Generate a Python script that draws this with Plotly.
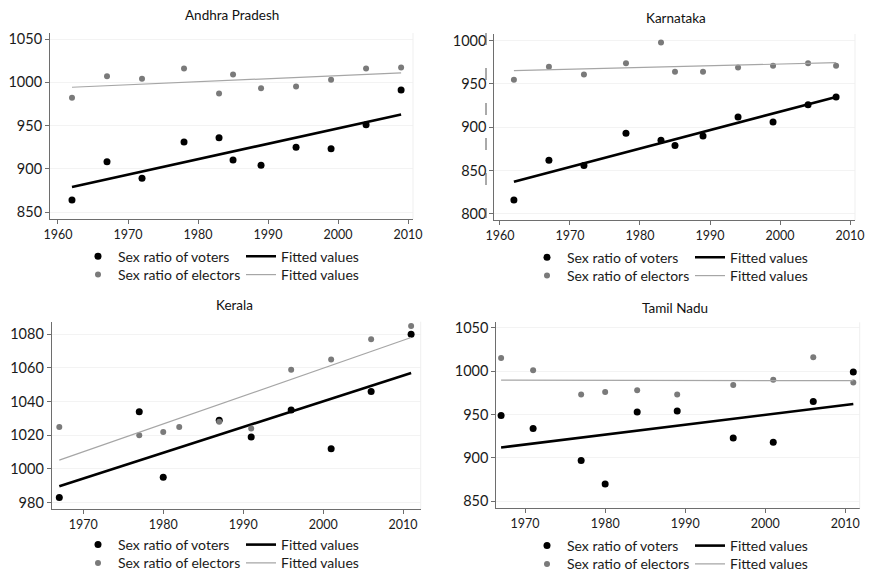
import numpy as np
import plotly.graph_objects as go

# ---------------- data ----------------
ap_years = [1962, 1967, 1972, 1978, 1983, 1985, 1989, 1994, 1999, 2004, 2009]
ap_voters = [864, 908, 889, 931, 936, 910, 904, 925, 923, 951, 991]
ap_electors = [982, 1007, 1004, 1016, 987, 1009, 993, 995, 1003, 1016, 1017]

ka_years = [1962, 1967, 1972, 1978, 1983, 1985, 1989, 1994, 1999, 2004, 2008]
ka_voters = [816, 862, 856, 893, 885, 879, 890, 912, 906, 926, 935]
ka_electors = [955, 970, 961, 974, 998, 964, 964, 969, 971, 974, 971]

ke_voter_years = [1967, 1977, 1980, 1987, 1991, 1996, 2001, 2006, 2011]
ke_voters = [983, 1034, 995, 1029, 1019, 1035, 1012, 1046, 1080]
ke_elector_years = [1967, 1977, 1980, 1982, 1987, 1991, 1996, 2001, 2006, 2011]
ke_electors = [1025, 1020, 1022, 1025, 1028, 1024, 1059, 1065, 1077, 1085]

tn_years = [1967, 1971, 1977, 1980, 1984, 1989, 1996, 2001, 2006, 2011]
tn_voters = [949, 934, 897, 870, 953, 954, 923, 918, 965, 999]
tn_electors = [1015, 1001, 973, 976, 978, 973, 984, 990, 1016, 987]

titles = ["Andhra Pradesh", "Karnataka", "Kerala", "Tamil Nadu"]
x_ticks_top = [1960, 1970, 1980, 1990, 2000, 2010]
x_ticks_bottom = [1970, 1980, 1990, 2000, 2010]
ap_y_ticks = [850, 900, 950, 1000, 1050]
ka_y_ticks = [800, 850, 900, 950, 1000]
ke_y_ticks = [980, 1000, 1020, 1040, 1060, 1080]
tn_y_ticks = [850, 900, 950, 1000, 1050]

legend_labels = ["Sex ratio of voters", "Fitted values", "Sex ratio of electors", "Fitted values"]

# ---------------- layout helpers ----------------
W, H = 874, 574
FONT = "Lato, 'DejaVu Sans Condensed', sans-serif"
AXIS_COL = "#6e6e6e"
TXT = "#1a1a1a"

panels = [
    dict(vy=ap_years, v=ap_voters, ey=ap_years, e=ap_electors,
         xr=[1958.86, 2010.7], yr=[841.9, 1057], xt=x_ticks_top, yt=ap_y_ticks,
         dx=(50, 413), dy=(33, 219), title=(232, 15), rows=(256.7, 275), mL=78, lL=241),
    dict(vy=ka_years, v=ka_voters, ey=ka_years, e=ka_electors,
         xr=[1959.2, 2010.7], yr=[793, 1007.7], xt=x_ticks_top, yt=ka_y_ticks,
         dx=(494.3, 855), dy=(34, 220), title=(676, 18), rows=(257.7, 276), mL=527, lL=690),
    dict(vy=ke_voter_years, v=ke_voters, ey=ke_elector_years, e=ke_electors,
         xr=[1966.05, 2012.2], yr=[976.2, 1087.5], xt=x_ticks_bottom, yt=ke_y_ticks,
         dx=(51.7, 420.7), dy=(321.7, 509), title=(234, 305), rows=(545, 563.3), mL=78, lL=241),
    dict(vy=tn_years, v=tn_voters, ey=tn_years, e=tn_electors,
         xr=[1966.4, 2011.8], yr=[842, 1056.2], xt=x_ticks_bottom, yt=tn_y_ticks,
         dx=(496.3, 859.7), dy=(322.3, 508.3), title=(675, 308), rows=(546, 564.3), mL=527, lL=690),
]

fig = go.Figure()
layout = dict(
    width=W, height=H,
    margin=dict(l=0, r=0, t=0, b=0, autoexpand=False),
    paper_bgcolor="white", plot_bgcolor="white",
    showlegend=True,
    font=dict(family=FONT, size=14, color=TXT),
    annotations=[], shapes=[],
)

for i, p in enumerate(panels):
    n = i + 1
    xa = "x" if n == 1 else f"x{n}"
    ya = "y" if n == 1 else f"y{n}"
    leg_ids = []
    for j in range(4):
        k = 4 * i + j + 1
        leg_ids.append("legend" if k == 1 else f"legend{k}")

    # fitted values (linear fit of each series)
    cv = np.polyfit(p["vy"], p["v"], 1)
    ce = np.polyfit(p["ey"], p["e"], 1)
    fvx = [min(p["vy"]), max(p["vy"])]
    fex = [min(p["ey"]), max(p["ey"])]

    fig.add_trace(go.Scatter(x=p["vy"], y=p["v"], mode="markers", name=legend_labels[0],
                             marker=dict(color="black", size=7), xaxis=xa, yaxis=ya,
                             legend=leg_ids[0], showlegend=True))
    fig.add_trace(go.Scatter(x=fvx, y=np.polyval(cv, fvx), mode="lines", name=legend_labels[1],
                             line=dict(color="black", width=2.6), xaxis=xa, yaxis=ya,
                             legend=leg_ids[1], showlegend=True))
    fig.add_trace(go.Scatter(x=p["ey"], y=p["e"], mode="markers", name=legend_labels[2],
                             marker=dict(color="#7a7a7a", size=6), xaxis=xa, yaxis=ya,
                             legend=leg_ids[2], showlegend=True))
    fig.add_trace(go.Scatter(x=fex, y=np.polyval(ce, fex), mode="lines", name=legend_labels[3],
                             line=dict(color="#a6a6a6", width=1.2), xaxis=xa, yaxis=ya,
                             legend=leg_ids[3], showlegend=True))

    # legends: one item each, placed in a 2x2 grid under the panel
    pos = [(p["mL"], p["rows"][0]), (p["lL"], p["rows"][0]),
           (p["mL"], p["rows"][1]), (p["lL"], p["rows"][1])]
    for lid, (lx, ly) in zip(leg_ids, pos):
        layout[lid] = dict(x=lx / W, y=1 - ly / H, xanchor="left", yanchor="middle",
                           bgcolor="rgba(0,0,0,0)", borderwidth=0, itemwidth=30,
                           font=dict(family=FONT, size=14, color=TXT),
                           tracegroupgap=0)

    axis_common = dict(showline=True, linecolor=AXIS_COL, linewidth=1, ticks="outside",
                       ticklen=4, tickcolor=AXIS_COL, showgrid=True, gridcolor="#f3f3f3",
                       zeroline=False, automargin=False)
    xkey = "xaxis" if n == 1 else f"xaxis{n}"
    ykey = "yaxis" if n == 1 else f"yaxis{n}"
    layout[xkey] = dict(axis_common, domain=[p["dx"][0] / W, p["dx"][1] / W], range=p["xr"],
                        tickvals=p["xt"], anchor=ya, showgrid=False,
                        tickfont=dict(family=FONT, size=12.5, color=TXT))
    layout[ykey] = dict(axis_common, domain=[1 - p["dy"][1] / H, 1 - p["dy"][0] / H],
                        range=p["yr"], tickvals=p["yt"], anchor=xa,
                        tickfont=dict(family=FONT, size=14.5, color=TXT))

    # faint right edge of plot region
    layout["shapes"].append(dict(type="line", xref=f"{xa} domain", yref=f"{ya} domain",
                                 x0=1, x1=1, y0=0, y1=1,
                                 line=dict(color="#efefef", width=1)))
    # panel title
    layout["annotations"].append(dict(text=titles[i], x=p["title"][0] / W, y=1 - p["title"][1] / H,
                                      xref="paper", yref="paper", xanchor="center", yanchor="middle",
                                      showarrow=False, font=dict(family=FONT, size=13.5, color="#111")))

# the Karnataka panel shows a dashed rule just right of its y tick labels
layout["shapes"].append(dict(type="line", xref="paper", yref="paper",
                             x0=486 / W, x1=486 / W, y0=1 - 33 / H, y1=1 - 218 / H,
                             line=dict(color="#555555", width=1, dash="12px,23px")))

fig.update_layout(**layout)
# remove the browser's default 8px page margin so the figure sits at the window origin
fig.write_html("out.html", config={"displayModeBar": False},
               post_script="document.body.style.margin='0';")
